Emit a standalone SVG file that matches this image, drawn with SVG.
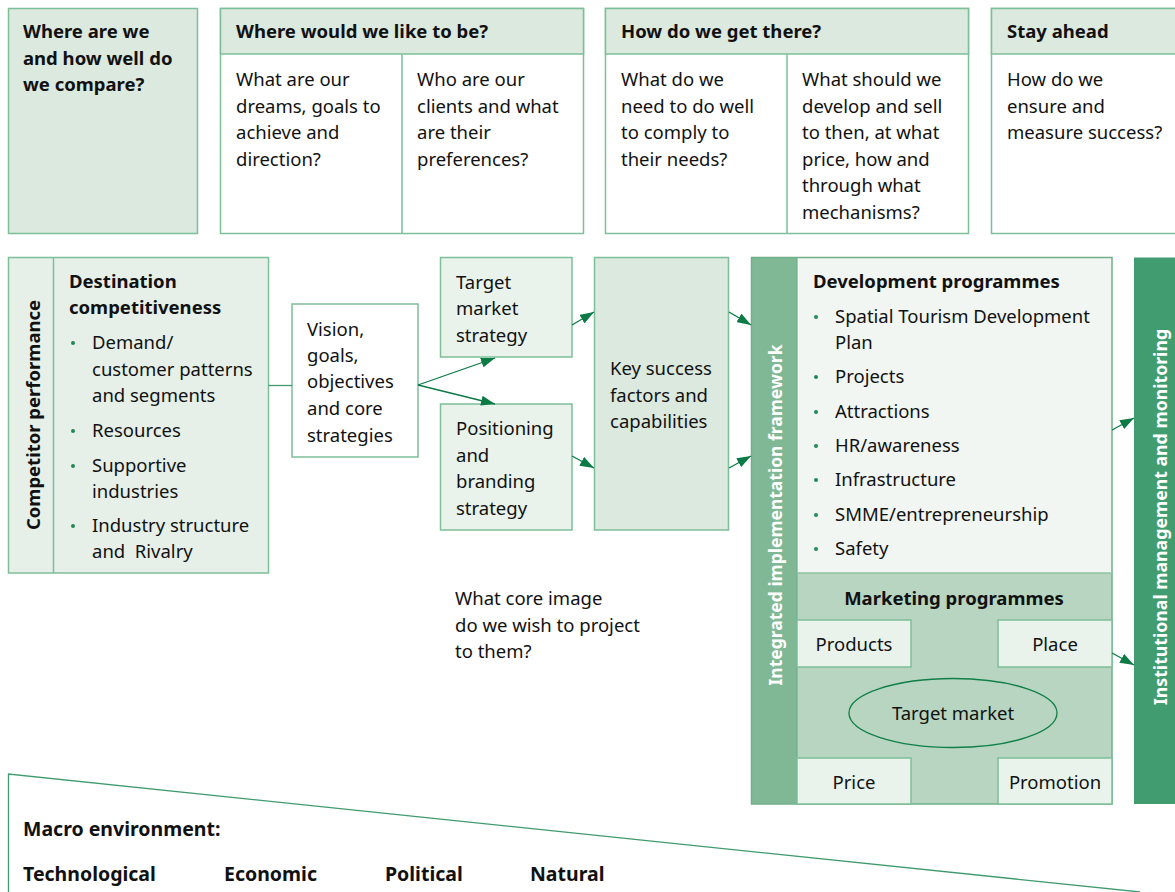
<svg xmlns="http://www.w3.org/2000/svg" width="1175" height="892" viewBox="0 0 1175 892">
<defs>
<marker id="ah" viewBox="0 0 14 10" refX="14" refY="5" markerWidth="14" markerHeight="10" markerUnits="userSpaceOnUse" orient="auto"><path d="M0,0 L14,5 L0,10 z" fill="#0b7a45"/></marker>
</defs>
<style>
text{font-family:"Noto Sans","Open Sans","DejaVu Sans",sans-serif;font-size:18.5px;fill:#111}
.b{font-weight:bold}
.c{text-anchor:middle}
.w{fill:#fff}
.m{font-size:19.5px}
.box{stroke:#7dbf98;stroke-width:1.5}
.hd{fill:#dce9df}
.wh{fill:#fff}
.lt{fill:#e9f3ec}
.dot{fill:#1f8a55}
.conn{stroke:#0b7a45;stroke-width:1.3;fill:none}
</style>
<rect width="1175" height="892" fill="#fff"/>

<g id="top-where-are-we">
<rect class="box hd" x="8.5" y="8.5" width="189" height="225"/>
<text class="b" x="23" y="38">Where are we</text>
<text class="b" x="23" y="64.5">and how well do</text>
<text class="b" x="23" y="91">we compare?</text>
</g>

<g id="top-where-would-we-like-to-be">
<rect class="box wh" x="220.5" y="8.5" width="363" height="225"/>
<rect class="box hd" x="220.5" y="8.5" width="363" height="45.5"/>
<line class="box" x1="402" y1="54" x2="402" y2="233.5"/>
<text class="b" x="236" y="38">Where would we like to be?</text>
<text x="236" y="86">What are our</text>
<text x="236" y="112.5">dreams, goals to</text>
<text x="236" y="139">achieve and</text>
<text x="236" y="165.5">direction?</text>
<text x="417" y="86">Who are our</text>
<text x="417" y="112.5">clients and what</text>
<text x="417" y="139">are their</text>
<text x="417" y="165.5">preferences?</text>
</g>

<g id="top-how-do-we-get-there">
<rect class="box wh" x="605.5" y="8.5" width="363" height="225"/>
<rect class="box hd" x="605.5" y="8.5" width="363" height="45.5"/>
<line class="box" x1="787" y1="54" x2="787" y2="233.5"/>
<text class="b" x="621" y="38">How do we get there?</text>
<text x="621" y="86">What do we</text>
<text x="621" y="112.5">need to do well</text>
<text x="621" y="139">to comply to</text>
<text x="621" y="165.5">their needs?</text>
<text x="802" y="86">What should we</text>
<text x="802" y="112.5">develop and sell</text>
<text x="802" y="139">to then, at what</text>
<text x="802" y="165.5">price, how and</text>
<text x="802" y="192">through what</text>
<text x="802" y="218.5">mechanisms?</text>
</g>

<g id="top-stay-ahead">
<rect class="box wh" x="991.5" y="8.5" width="200" height="225"/>
<rect class="box hd" x="991.5" y="8.5" width="200" height="45.5"/>
<text class="b" x="1007" y="38">Stay ahead</text>
<text x="1007" y="86">How do we</text>
<text x="1007" y="112.5">ensure and</text>
<text x="1007" y="139">measure success?</text>
</g>

<g id="destination-competitiveness">
<rect class="box" fill="#e6f0e9" x="8.5" y="257.5" width="260" height="315.5"/>
<line class="box" x1="53.5" y1="257.5" x2="53.5" y2="573"/>
<text class="b c" transform="translate(40,415) rotate(-90)" x="0" y="0">Competitor performance</text>
<text class="b" x="69" y="288">Destination</text>
<text class="b" x="69" y="314">competitiveness</text>
<circle class="dot" cx="73" cy="343" r="2"/>
<text x="92" y="349">Demand/</text>
<text x="92" y="375.5">customer patterns</text>
<text x="92" y="402">and segments</text>
<circle class="dot" cx="73" cy="431" r="2"/>
<text x="92" y="437">Resources</text>
<circle class="dot" cx="73" cy="466" r="2"/>
<text x="92" y="472">Supportive</text>
<text x="92" y="498">industries</text>
<circle class="dot" cx="73" cy="526" r="2"/>
<text x="92" y="532">Industry structure</text>
<text x="92" y="558" xml:space="preserve">and  Rivalry</text>
</g>

<g id="vision">
<rect class="box wh" x="292" y="304" width="126" height="153" stroke="#3f9a6e"/>
<text x="307" y="336">Vision,</text>
<text x="307" y="362">goals,</text>
<text x="307" y="388">objectives</text>
<text x="307" y="415">and core</text>
<text x="307" y="442">strategies</text>
</g>

<g id="target-market-strategy">
<rect class="box lt" x="440.5" y="257.5" width="131.5" height="99.5"/>
<text x="456" y="289">Target</text>
<text x="456" y="315">market</text>
<text x="456" y="342">strategy</text>
</g>

<g id="positioning-branding">
<rect class="box lt" x="440.5" y="404" width="131.5" height="126"/>
<text x="456" y="435">Positioning</text>
<text x="456" y="462">and</text>
<text x="456" y="488">branding</text>
<text x="456" y="515">strategy</text>
</g>

<g id="key-success">
<rect class="box hd" x="594.5" y="257.5" width="134" height="272.5"/>
<text x="610" y="375">Key success</text>
<text x="610" y="402">factors and</text>
<text x="610" y="428">capabilities</text>
</g>

<g id="core-image-note">
<text x="455" y="605">What core image</text>
<text x="455" y="632">do we wish to project</text>
<text x="455" y="658">to them?</text>
</g>

<g id="integrated-framework">
<rect x="751.5" y="257.5" width="45.5" height="546.5" fill="#80b896"/>
<rect x="797" y="257.5" width="315" height="315.5" fill="#f1f6f2"/>
<rect x="797" y="573" width="315" height="231" fill="#b7d5c0"/>
<rect x="751.5" y="257.5" width="360.5" height="546.5" fill="none" stroke="#6fb08a" stroke-width="1.5"/>
<line x1="797" y1="257.5" x2="797" y2="804" stroke="#6fb08a" stroke-width="1.2"/>
<line x1="797" y1="573" x2="1112" y2="573" stroke="#8fc3a2" stroke-width="1.5"/>
<text class="b c w" transform="translate(782,515) rotate(-90)" x="0" y="0" style="font-size:17.5px">Integrated implementation framework</text>
<text class="b" x="813" y="288">Development programmes</text>
<circle class="dot" cx="816" cy="317" r="2"/>
<text x="835" y="323">Spatial Tourism Development</text>
<text x="835" y="349">Plan</text>
<circle class="dot" cx="816" cy="377" r="2"/>
<text x="835" y="383">Projects</text>
<circle class="dot" cx="816" cy="412" r="2"/>
<text x="835" y="418">Attractions</text>
<circle class="dot" cx="816" cy="446" r="2"/>
<text x="835" y="452">HR/awareness</text>
<circle class="dot" cx="816" cy="480" r="2"/>
<text x="835" y="486">Infrastructure</text>
<circle class="dot" cx="816" cy="515" r="2"/>
<text x="835" y="521">SMME/entrepreneurship</text>
<circle class="dot" cx="816" cy="549" r="2"/>
<text x="835" y="555">Safety</text>
<text class="b c" x="954" y="605">Marketing programmes</text>
</g>

<g id="products">
<rect class="box lt" x="797" y="620" width="114" height="47"/>
<text class="c" x="854" y="651">Products</text>
</g>
<g id="place">
<rect class="box lt" x="998" y="620" width="114" height="47"/>
<text class="c" x="1055" y="651">Place</text>
</g>
<g id="target-market">
<ellipse cx="953" cy="713" rx="104" ry="34.5" fill="none" stroke="#0f7f47" stroke-width="1.3"/>
<text class="c" x="953" y="720">Target market</text>
</g>
<g id="price">
<rect class="box lt" x="797" y="758" width="114" height="46"/>
<text class="c" x="854" y="789">Price</text>
</g>
<g id="promotion">
<rect class="box lt" x="998" y="758" width="114" height="46"/>
<text class="c" x="1055" y="789">Promotion</text>
</g>

<g id="institutional">
<rect x="1134" y="257.5" width="45" height="546.5" fill="#419c70"/>
<text class="b c w" transform="translate(1167,517) rotate(-90)" x="0" y="0" style="font-size:17.7px">Institutional management and monitoring</text>
</g>

<g id="macro-environment">
<polyline points="8.5,892 8.5,774 1140,892" fill="none" stroke="#3f9a6e" stroke-width="1.3"/>
<text class="b m" x="23" y="836">Macro environment:</text>
<text class="b m" x="23" y="881">Technological</text>
<text class="b m" x="224" y="881">Economic</text>
<text class="b m" x="385" y="881">Political</text>
<text class="b m" x="530" y="881">Natural</text>
</g>

<g id="connectors">
<line x1="268.5" y1="385.5" x2="292" y2="385.5" stroke="#3f9a6e" stroke-width="1.3"/>
<line class="conn" x1="418" y1="385" x2="495" y2="358" marker-end="url(#ah)"/>
<line class="conn" x1="418" y1="385" x2="495" y2="404" marker-end="url(#ah)"/>
<line class="conn" x1="572" y1="325" x2="594" y2="312" marker-end="url(#ah)"/>
<line class="conn" x1="572" y1="456" x2="594" y2="468" marker-end="url(#ah)"/>
<line class="conn" x1="729" y1="312" x2="751" y2="325" marker-end="url(#ah)"/>
<line class="conn" x1="729" y1="468" x2="751" y2="456" marker-end="url(#ah)"/>
<line class="conn" x1="1112" y1="430" x2="1134" y2="418" marker-end="url(#ah)"/>
<line class="conn" x1="1112" y1="653" x2="1134" y2="665" marker-end="url(#ah)"/>
</g>
</svg>
